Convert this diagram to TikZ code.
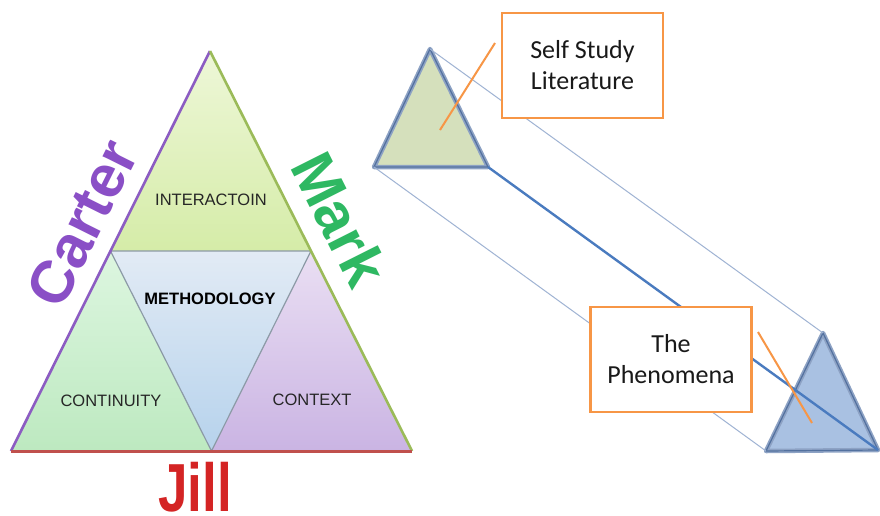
\documentclass[tikz,border=0pt]{standalone}
\usepackage{fontspec}
\setmainfont{Liberation Sans}
\newfontfamily\boxfont{Carlito}
\usetikzlibrary{calc}

\definecolor{carterpurple}{HTML}{8A4FC6}
\definecolor{markgreen}{HTML}{2EB862}
\definecolor{jillred}{HTML}{D42424}
\definecolor{edgepurple}{HTML}{8C5CC2}
\definecolor{edgegreen}{HTML}{9BBB59}
\definecolor{edgered}{HTML}{C0504D}
\definecolor{innergray}{HTML}{8C9AA6}
\definecolor{topA}{HTML}{EEF7D8}
\definecolor{topB}{HTML}{D5ECA8}
\definecolor{leftA}{HTML}{DDF6E0}
\definecolor{leftB}{HTML}{BDE9C0}
\definecolor{midA}{HTML}{E2EBF5}
\definecolor{midB}{HTML}{B6D2EC}
\definecolor{rightA}{HTML}{EADFF3}
\definecolor{rightB}{HTML}{CAB4E3}
\definecolor{smallfill}{HTML}{D5E0BC}
\definecolor{bigfill}{HTML}{A9C1E2}
\definecolor{rimouter}{HTML}{8DA2C4}
\definecolor{riminner}{HTML}{53719F}
\definecolor{thinblue}{HTML}{9FB3D3}
\definecolor{thickblue}{HTML}{4A7BBF}
\definecolor{calloutorange}{HTML}{F79646}

\tikzset{
  facet/.style={font=\fontsize{16.5}{19}\selectfont, text=black!85},
  bigname/.style={font=\fontsize{60}{60}\selectfont\bfseries, inner sep=0pt},
  rimouterline/.style={draw=rimouter, line width=4.5pt, line join=round},
  riminnerline/.style={draw=riminner, line width=1.2pt, line join=round},
  thinlink/.style={draw=thinblue, line width=1pt},
  thicklink/.style={draw=thickblue, line width=2.4pt},
  notebox/.style={draw=calloutorange, line width=2.2pt, fill=white,
    minimum width=161pt, minimum height=105pt, inner sep=0pt, align=center,
    font=\boxfont\fontsize{26}{31}\selectfont, text=black!90},
  pointer/.style={draw=calloutorange, line width=2pt}
}

\begin{document}
\begin{tikzpicture}[x=1pt,y=-1pt]
  \useasboundingbox (0,0) rectangle (880,515);
  \fill[white] (0,0) rectangle (880,515);

  % ---------- left: the experience triangle ----------
  \coordinate (A)  at (210,51);
  \coordinate (L)  at (11,451);
  \coordinate (R)  at (412,451);
  \coordinate (ml) at ($(A)!0.5!(L)$);
  \coordinate (mr) at ($(A)!0.5!(R)$);
  \coordinate (mb) at ($(L)!0.5!(R)$);

  \shade[top color=topA,   bottom color=topB]   (A) -- (ml) -- (mr) -- cycle;
  \shade[top color=leftA,  bottom color=leftB]  (ml) -- (L) -- (mb) -- cycle;
  \shade[top color=midA,   bottom color=midB]   (ml) -- (mr) -- (mb) -- cycle;
  \shade[top color=rightA, bottom color=rightB] (mr) -- (mb) -- (R) -- cycle;

  \draw[innergray, line width=1.2pt] (ml) -- (mr) -- (mb) -- cycle;

  \draw[edgepurple, line width=2.6pt] (L) -- (A);
  \draw[edgegreen,  line width=2.6pt] (A) -- (R);
  \draw[edgered,    line width=3pt]   (L) -- (R);

  \node[facet] (interaction) at (211,200) {INTERACTOIN};
  \node[facet, font=\fontsize{16.5}{19}\selectfont\bfseries, text=black] (method) at (210,299) {METHODOLOGY};
  \node[facet] (continuity) at (111,401) {CONTINUITY};
  \node[facet] (context) at (312,400) {CONTEXT};

  \node[bigname, text=carterpurple, rotate=63.5] (carter) at (82,223) {Carter};
  \node[bigname, text=markgreen, rotate=-63.3] (mark) at (340,219) {Mark};
  \node[inner sep=0pt, anchor=base, text=jillred] (jill) at (195,511)
    {\scalebox{0.78}[1]{\fontsize{68}{68}\selectfont\bfseries Jill}};

  % ---------- right: projection between two triangles ----------
  \coordinate (sA) at (430,49);
  \coordinate (sL) at (374,167);
  \coordinate (sR) at (488,167);
  \coordinate (bA) at (823,333);
  \coordinate (bL) at (766,451);
  \coordinate (bR) at (878,450);

  \fill[smallfill] (sA) -- (sL) -- (sR) -- cycle;
  \draw[rimouterline] (sA) -- (sL) -- (sR) -- cycle;
  \draw[riminnerline] (sA) -- (sL) -- (sR) -- cycle;

  \fill[bigfill] (bA) -- (bL) -- (bR) -- cycle;
  \draw[rimouterline] (bA) -- (bL) -- (bR) -- cycle;
  \draw[riminnerline] (bA) -- (bL) -- (bR) -- cycle;

  \draw[thinlink] (sA) -- (bA);
  \draw[thinlink] (sL) -- (bL);
  \draw[thicklink] (sR) -- (bR);

  \node[notebox] (selfstudy) at (582.5,65.5) {Self Study\\Literature};
  \node[notebox] (phenomena) at (671,359.5) {The\\Phenomena};

  \coordinate (selftip)  at (495,43);
  \coordinate (selfend)  at (440,130);
  \coordinate (phentip)  at (758,332);
  \coordinate (phenend)  at (812,423);
  \draw[pointer] (selftip) -- (selfend);
  \draw[pointer] (phentip) -- (phenend);
\end{tikzpicture}
\end{document}
